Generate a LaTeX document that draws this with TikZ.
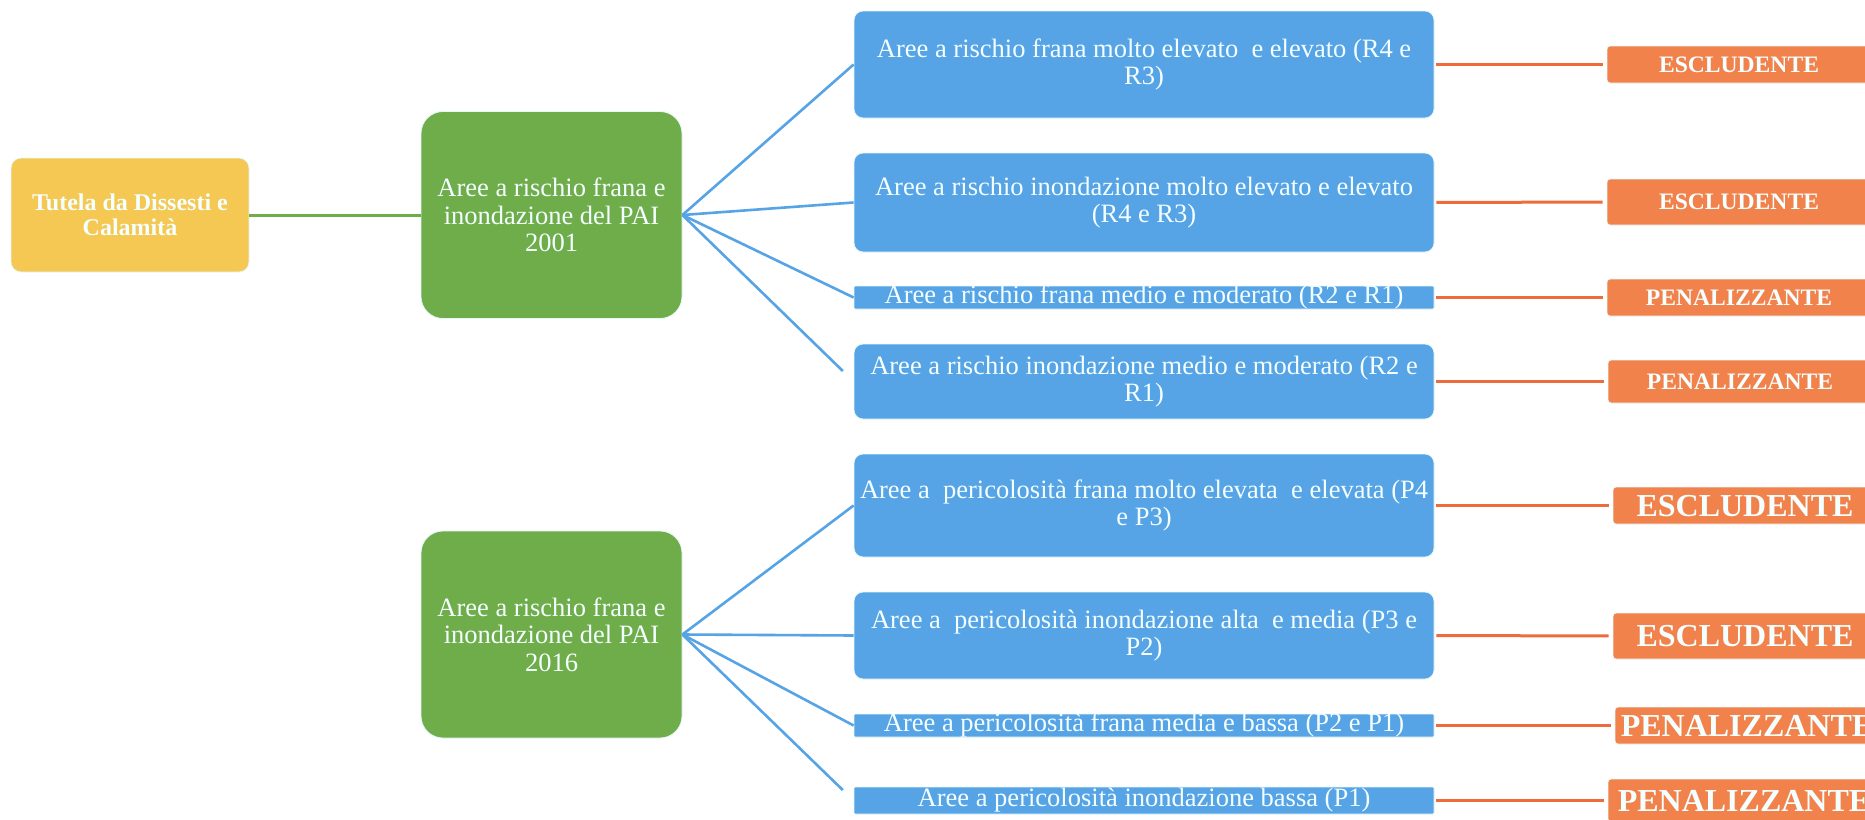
\documentclass[tikz,border=0pt]{standalone}
\usepackage{fontspec}
\setmainfont{Liberation Serif}
\definecolor{ygold}{HTML}{F4C852}
\definecolor{ggreen}{HTML}{6FAC4A}
\definecolor{bblue}{HTML}{56A3E6}
\definecolor{oorange}{HTML}{F2824C}
\definecolor{olinec}{HTML}{EE6C3C}
\definecolor{edgec}{HTML}{E4F8F8}
\definecolor{txtc}{HTML}{F4FFFF}
\begin{document}
\begin{tikzpicture}[x=1pt,y=-1pt,
 box/.style={rectangle, inner sep=0pt, draw=edgec, line width=0.8pt, text=txtc, align=center},
 ybox/.style={box, fill=ygold, rounded corners=10pt, minimum width=238pt, minimum height=114pt, font=\bfseries\fontsize{24}{25}\selectfont},
 gbox/.style={box, fill=ggreen, rounded corners=22pt, minimum width=261pt, minimum height=207pt, font=\fontsize{26.5}{27.7}\selectfont},
 bbox/.style={box, fill=bblue, rounded corners=9pt, minimum width=580pt, font=\fontsize{26.5}{27.2}\selectfont},
 bthin/.style={bbox, rounded corners=1pt, text height=17pt, text depth=5.5pt},
 obox/.style={box, fill=oorange, rounded corners=3pt, minimum width=264pt, font=\bfseries\fontsize{23.6}{25}\selectfont, text height=15.6pt, text depth=0pt},
 obig/.style={obox, font=\bfseries\fontsize{32}{34}\selectfont, text height=21.2pt, text depth=0pt},
 gline/.style={draw=ggreen, line width=3pt},
 bline/.style={draw=bblue, line width=2.6pt},
 orline/.style={draw=olinec, line width=3pt, shorten <=2pt, shorten >=4pt}
]
\useasboundingbox (0,0) rectangle (1865,819);

% root
\node[ybox] (tut) at (130,215) {Tutela da Dissesti e\\Calamità};

% level 2
\node[gbox] (g1) at (551.5,215) {Aree a rischio frana e\\inondazione del PAI\\2001};
\node[gbox] (g2) at (551.5,634.5) {Aree a rischio frana e\\inondazione del PAI\\2016};

% level 3
\node[bbox, minimum height=107pt] (b1) at (1144,64.5) {Aree a rischio frana molto elevato\ \ e elevato (R4 e\\R3)};
\node[bbox, minimum height=99pt] (b2) at (1144,202.5) {Aree a rischio inondazione molto elevato e elevato\\(R4 e R3)};
\node[bthin, minimum height=23pt] (b3) at (1144,297.5) {Aree a rischio frana medio e moderato (R2 e R1)};
\node[bbox, minimum height=75pt] (b4) at (1144,381.5) {Aree a rischio inondazione medio e moderato (R2 e\\R1)};
\node[bbox, minimum height=103pt] (b5) at (1144,505.5) {Aree a\ \ pericolosità frana molto elevata\ \ e elevata (P4\\e P3)};
\node[bbox, minimum height=87pt] (b6) at (1144,635.5) {Aree a\ \ pericolosità inondazione alta\ \ e media (P3 e\\P2)};
\node[bthin, minimum height=23pt] (b7) at (1144,725.5) {Aree a pericolosità frana media e bassa (P2 e P1)};
\node[bthin, minimum height=27pt] (b8) at (1144,800.5) {Aree a pericolosità inondazione bassa (P1)};

% level 4
\node[obox, minimum height=37pt] (o1) at (1739,64.5) {ESCLUDENTE};
\node[obox, minimum height=46pt] (o2) at (1739,202) {ESCLUDENTE};
\node[obox, minimum height=37pt] (o3) at (1739,297.5) {PENALIZZANTE};
\node[obox, minimum height=43pt] (o4) at (1740,381.5) {PENALIZZANTE};
\node[obig, minimum height=37pt] (o5) at (1745,505.5) {ESCLUDENTE};
\node[obig, minimum height=46pt] (o6) at (1745,636) {ESCLUDENTE};
\node[obig, minimum height=37pt] (o7) at (1747,725.5) {PENALIZZANTE};
\node[obig, minimum height=43pt, minimum width=272pt] (o8) at (1744,800.5) {PENALIZZANTE};

% connectors
\draw[gline] (tut.east) -- (g1.west);
\draw[bline] (g1.east) -- (b1.west);
\draw[bline] (g1.east) -- (b2.west);
\draw[bline] (g1.east) -- (b3.west);
\draw[bline, shorten >=15pt] (g1.east) -- (b4.west);
\draw[bline] (g2.east) -- (b5.west);
\draw[bline] (g2.east) -- (b6.west);
\draw[bline] (g2.east) -- (b7.west);
\draw[bline, shorten >=15pt] (g2.east) -- (b8.west);
\draw[orline] (b1.east) -- (o1.west);
\draw[orline] (b2.east) -- (o2.west);
\draw[orline] (b3.east) -- (o3.west);
\draw[orline] (b4.east) -- (o4.west);
\draw[orline] (b5.east) -- (o5.west);
\draw[orline] (b6.east) -- (o6.west);
\draw[orline] (b7.east) -- (o7.west);
\draw[orline] (b8.east) -- (o8.west);
\end{tikzpicture}
\end{document}
